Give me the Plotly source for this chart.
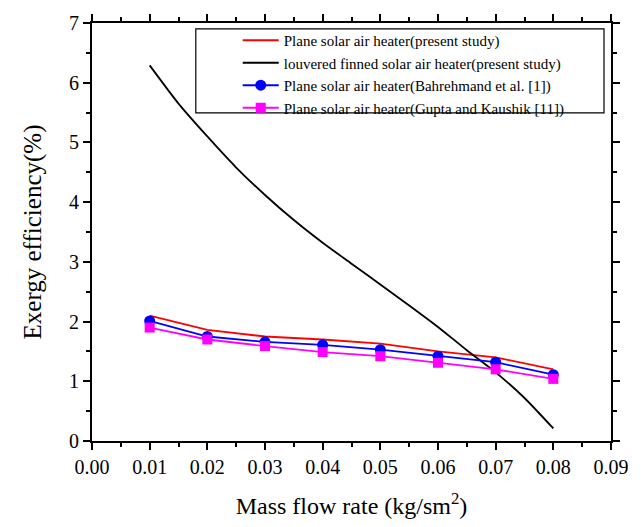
import plotly.graph_objects as go

# Data
mass_flow = [0.01, 0.02, 0.03, 0.04, 0.05, 0.06, 0.07, 0.08]
plane_present = [2.10, 1.86, 1.75, 1.70, 1.63, 1.50, 1.40, 1.20]
bahrehmand = [2.01, 1.75, 1.66, 1.61, 1.53, 1.42, 1.32, 1.11]
gupta = [1.90, 1.70, 1.59, 1.49, 1.42, 1.31, 1.20, 1.04]

louvered_x = [0.010, 0.015, 0.020, 0.025, 0.030, 0.035, 0.040, 0.045,
              0.050, 0.055, 0.060, 0.065, 0.070, 0.075, 0.080]
louvered_y = [6.29, 5.65, 5.10, 4.58, 4.12, 3.70, 3.32, 2.97,
              2.62, 2.27, 1.91, 1.52, 1.15, 0.72, 0.21]

x_ticks = [0.00, 0.01, 0.02, 0.03, 0.04, 0.05, 0.06, 0.07, 0.08, 0.09]
y_ticks = [0, 1, 2, 3, 4, 5, 6, 7]

names = [
    "Plane solar air heater(present study)",
    "louvered finned solar air heater(present study)",
    "Plane solar air heater(Bahrehmand et al. [1])",
    "Plane solar air heater(Gupta and Kaushik [11])",
]

FONT = "Liberation Serif, Times New Roman, serif"

fig = go.Figure()
fig.add_trace(go.Scatter(x=mass_flow, y=plane_present, mode="lines",
                         line=dict(color="#ff0000", width=1.8), name=names[0]))
fig.add_trace(go.Scatter(x=louvered_x, y=louvered_y, mode="lines",
                         line=dict(color="#000000", width=1.8, shape="spline", smoothing=0.6),
                         name=names[1]))
fig.add_trace(go.Scatter(x=mass_flow, y=bahrehmand, mode="lines+markers",
                         line=dict(color="#0000ff", width=1.8),
                         marker=dict(symbol="circle", size=11, color="#0000ff"),
                         name=names[2]))
fig.add_trace(go.Scatter(x=mass_flow, y=gupta, mode="lines+markers",
                         line=dict(color="#ff00ff", width=1.8),
                         marker=dict(symbol="square", size=10, color="#ff00ff"),
                         name=names[3]))

W, H = 641, 527
L, R, T, B = 92, 29, 15, 84
pw, ph = W - L - R, H - T - B

def px_to_paper_x(px):
    return (px - L) / pw

def px_to_paper_y(py):
    return 1 - (py - T) / ph

# legend frame
fig.add_shape(type="rect", xref="paper", yref="paper",
              x0=px_to_paper_x(196), x1=px_to_paper_x(605),
              y0=px_to_paper_y(107), y1=px_to_paper_y(21),
              line=dict(color="black", width=1.2), fillcolor="white", layer="above")

axis_common = dict(
    showline=True, linecolor="black", linewidth=2,
    mirror="allticks", ticks="outside", ticklen=7, tickwidth=2, tickcolor="black",
    showgrid=False, zeroline=False,
    tickfont=dict(family=FONT, size=20, color="black"),
)

fig.update_xaxes(range=[0, 0.09], tickvals=x_ticks,
                 ticktext=[f"{v:.2f}" for v in x_ticks],
                 minor=dict(ticks="outside", ticklen=4, tickwidth=2, dtick=0.005, tickcolor="black"),
                 title=dict(text="Mass flow rate (kg/sm<sup>2</sup>)",
                            font=dict(family=FONT, size=24, color="black"), standoff=20),
                 **axis_common)
fig.update_yaxes(range=[0, 7], tickvals=y_ticks,
                 minor=dict(ticks="outside", ticklen=4, tickwidth=2, dtick=0.5, tickcolor="black"),
                 title=dict(text="Exergy efficiency(%)",
                            font=dict(family=FONT, size=25, color="black"), standoff=20),
                 **axis_common)

fig.update_layout(
    width=W, height=H,
    margin=dict(l=L, r=R, t=T, b=B, pad=0),
    plot_bgcolor="white", paper_bgcolor="white",
    font=dict(family=FONT, color="black"),
    showlegend=True,
    legend=dict(x=px_to_paper_x(238), y=px_to_paper_y(16), xanchor="left", yanchor="top",
                bgcolor="rgba(0,0,0,0)", borderwidth=0,
                font=dict(family=FONT, size=15, color="black"),
                itemwidth=36, tracegroupgap=0),
)

fig.write_html("out.html")
